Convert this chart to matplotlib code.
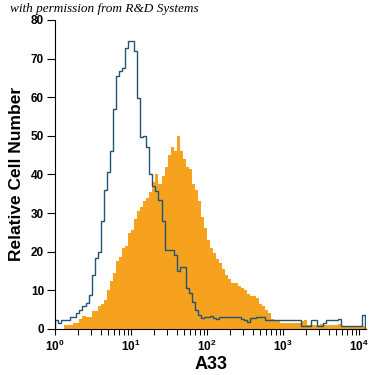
import numpy as np
import matplotlib
matplotlib.use("Agg")
import matplotlib.pyplot as plt
from matplotlib.ticker import LogLocator, FixedLocator

# histogram channels: log10 intensity, 0.04 decade per channel
log_start = 0.0
log_step = 0.04
n_channels = 102

# isotype control (outline)
control_counts = [
    2.3, 1.5, 2.3, 2.3, 2.3, 3.2, 3.2, 4.1, 4.9, 5.8,
    6.7, 8.8, 14.0, 18.4, 20.0, 28.0, 36.0, 40.5, 46.0, 57.0,
    65.4, 66.7, 67.5, 72.7, 74.6, 74.6, 72.0, 59.8, 49.8, 50.0,
    47.0, 40.0, 36.9, 35.6, 33.4, 28.0, 20.5, 20.5, 20.5, 19.0,
    15.0, 16.1, 16.1, 10.5, 9.3, 7.0, 4.9, 3.6, 2.8, 3.2,
    3.2, 3.4, 2.8, 2.6, 3.0, 3.0, 3.0, 3.0, 3.0, 3.2,
    3.2, 2.6, 2.3, 1.9, 2.8, 2.8, 3.2, 3.2, 3.2, 2.4,
    2.3, 2.3, 2.3, 2.3, 2.3, 2.3, 2.3, 2.3, 2.3, 2.3,
    2.3, 0.8, 0.8, 0.8, 2.3, 2.3, 0.8, 0.8, 1.5, 2.3,
    2.3, 2.3, 2.3, 2.6, 0.8, 0.8, 0.8, 0.8, 0.8, 0.8,
    0.8, 3.6,
]

# A33 stained (filled)
a33_counts = [
    0, 0, 0, 1.0, 1.0, 1.0, 1.5, 1.5, 2.5, 3.4,
    3.2, 3.2, 4.5, 4.5, 5.8, 6.5, 7.5, 10.0, 12.5, 14.5,
    17.5, 18.7, 21.0, 21.5, 24.8, 25.5, 28.5, 30.5, 31.5, 33.0,
    34.0, 35.5, 38.0, 40.0, 37.5, 39.5, 42.0, 45.0, 47.0, 46.0,
    50.0, 46.0, 44.0, 42.0, 41.5, 37.5, 36.0, 33.0, 29.0, 26.0,
    23.0, 21.0, 19.6, 18.0, 17.0, 15.5, 14.0, 13.0, 12.0, 12.0,
    11.0, 10.5, 10.0, 9.0, 8.5, 8.5, 8.0, 6.5, 5.8, 4.9,
    4.0, 2.5, 2.3, 2.3, 1.5, 1.5, 1.5, 1.5, 1.5, 1.5,
    1.5, 2.0, 2.3, 1.0, 1.0, 1.0, 1.0, 1.3, 1.0, 1.0,
    1.0, 1.0, 1.0, 1.3, 0.8, 0.8, 0.8, 0.8, 0.8, 0.8,
    0.8, 0.8,
]

y_ticks = [0, 10, 20, 30, 40, 50, 60, 70, 80]
x_ticks = [1, 10, 100, 1000, 10000]
x_tick_labels = [r"$\mathbf{10^{0}}$", r"$\mathbf{10^{1}}$", r"$\mathbf{10^{2}}$",
                 r"$\mathbf{10^{3}}$", r"$\mathbf{10^{4}}$"]

plt.rcParams['font.family'] = ['Liberation Sans', 'DejaVu Sans']
plt.rcParams['mathtext.fontset'] = 'custom'
plt.rcParams['mathtext.bf'] = 'Liberation Sans:bold'

edges = 10 ** (log_start + log_step * np.arange(n_channels + 1))

fig = plt.figure(figsize=(3.75, 3.75), dpi=100)
ax = fig.add_axes([0.147, 0.123, 0.829, 0.824])

ax.stairs(a33_counts, edges, fill=True, color='#f7a21f', linewidth=0, zorder=1)
ax.stairs(control_counts, edges, color='#1f5472', linewidth=1.0, zorder=2)

ax.set_xscale('log')
ax.set_xlim(1, 10 ** 4.09)
ax.set_ylim(0, 80)

ax.xaxis.set_major_locator(FixedLocator(x_ticks))
ax.set_xticklabels(x_tick_labels)
ax.xaxis.set_minor_locator(LogLocator(base=10, subs=np.arange(2, 10)))
ax.xaxis.set_minor_formatter(plt.NullFormatter())
ax.set_yticks(y_ticks)

ax.tick_params(axis='y', direction='out', length=6, width=0.8, labelsize=8.5, pad=2)
ax.tick_params(axis='x', which='major', direction='out', length=4.5, width=0.8,
               labelsize=8.5, pad=3)
ax.tick_params(axis='x', which='minor', direction='out', length=4, width=0.7)
for lab in ax.get_yticklabels():
    lab.set_fontweight('bold')

ax.spines['top'].set_visible(False)
ax.spines['right'].set_visible(False)

ax.set_ylabel('Relative Cell Number', fontsize=12.5, fontweight='bold', labelpad=5)
ax.set_xlabel('A33', fontsize=13, fontweight='bold', labelpad=1)

fig.text(0.027, 0.975, 'with permission from R&D Systems', fontsize=9.5,
         family='Liberation Serif', style='italic', ha='left', va='center')

fig.savefig('out.png', dpi=100)
